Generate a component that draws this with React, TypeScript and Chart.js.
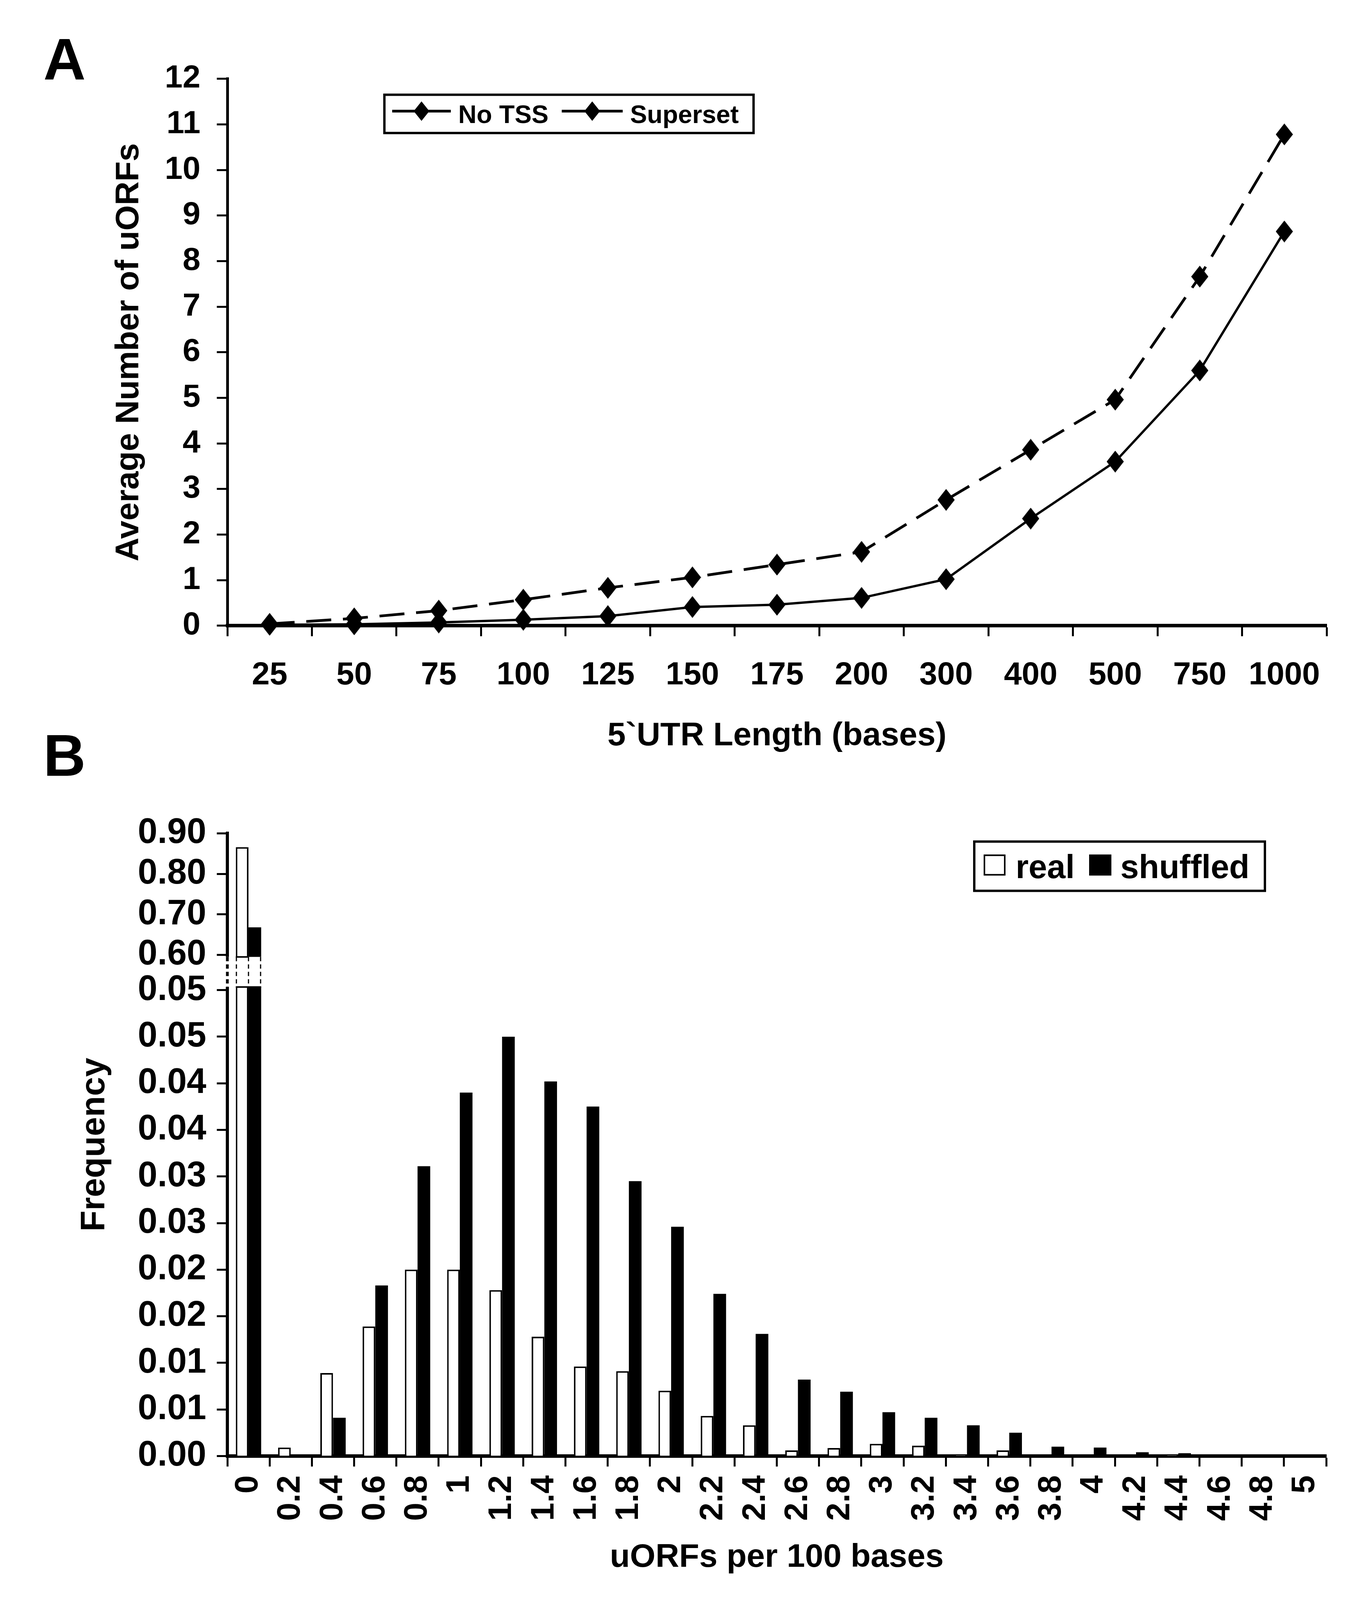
import React, { useEffect, useRef } from "react";
import { Chart, registerables } from "chart.js";

Chart.register(...registerables);

const FONT = "'Liberation Sans', Arial, Helvetica, sans-serif";

// ---------- Panel A data ----------
const utrLengths = ["25", "50", "75", "100", "125", "150", "175", "200", "300", "400", "500", "750", "1000"];
const noTssUorfs = [0.02, 0.03, 0.07, 0.13, 0.21, 0.41, 0.46, 0.61, 1.02, 2.35, 3.6, 5.6, 8.65];
const supersetUorfs = [0.04, 0.16, 0.33, 0.57, 0.83, 1.06, 1.34, 1.62, 2.76, 3.86, 4.96, 7.66, 10.78];
const seriesNamesA = ["No TSS", "Superset"];

// ---------- Panel B data ----------
const densityBins = ["0", "0.2", "0.4", "0.6", "0.8", "1", "1.2", "1.4", "1.6", "1.8", "2", "2.2", "2.4", "2.6", "2.8", "3", "3.2", "3.4", "3.6", "3.8", "4", "4.2", "4.4", "4.6", "4.8", "5"];
const realFreq = [0.866, 0.0009, 0.0089, 0.0139, 0.02, 0.02, 0.0178, 0.0128, 0.0096, 0.0091, 0.007, 0.0043, 0.0033, 0.0006, 0.00085, 0.0013, 0.0011, 0.0001, 0.0006, 0, 0, 0, 0.0001, 0, 0, 0];
const shuffledFreq = [0.668, 0, 0.0041, 0.0183, 0.0311, 0.039, 0.045, 0.0402, 0.0375, 0.0295, 0.0246, 0.0174, 0.0131, 0.0082, 0.0069, 0.0047, 0.0041, 0.0033, 0.0025, 0.001, 0.0009, 0.0004, 0.0003, 0.00015, 0.0001, 0.00006];
const seriesNamesB = ["real", "shuffled"];
const freqTickValues = [0, 0.005, 0.01, 0.015, 0.02, 0.025, 0.03, 0.035, 0.04, 0.045, 0.05, 0.6, 0.7, 0.8, 0.9];
const freqTickLabels = ["0.00", "0.01", "0.01", "0.02", "0.02", "0.03", "0.03", "0.04", "0.04", "0.05", "0.05", "0.60", "0.70", "0.80", "0.90"];

// broken axis: lower part 0..0.05, upper part 0.6..0.9
const BREAK_LOW = 0.05;
const BREAK_HIGH = 0.6;
const LOW_STEP = 0.005;
const HIGH_STEP = 0.1;
const GAP_UNITS = 0.755;
const HIGH_UNIT = 0.87;
function toAxis(v: number): number {
  if (v <= BREAK_LOW) return v / LOW_STEP;
  return BREAK_LOW / LOW_STEP + GAP_UNITS + ((v - BREAK_HIGH) / HIGH_STEP) * HIGH_UNIT;
}

const PAGE_W = 3484;
const PAGE_H = 4222;

function diamond(ctx: CanvasRenderingContext2D, x: number, y: number, w: number, h: number) {
  ctx.beginPath();
  ctx.moveTo(x, y - h / 2);
  ctx.lineTo(x + w / 2, y);
  ctx.lineTo(x, y + h / 2);
  ctx.lineTo(x - w / 2, y);
  ctx.closePath();
  ctx.fill();
}

function makeDiamondMarker(w: number, h: number): HTMLCanvasElement {
  const c = document.createElement("canvas");
  c.width = w;
  c.height = h;
  const ctx = c.getContext("2d") as CanvasRenderingContext2D;
  ctx.fillStyle = "#000";
  diamond(ctx, w / 2, h / 2, w, h);
  return c;
}

function makeLegendAPlugin(k: number) {
  return {
    id: "legendA",
    afterDraw(chart: any) {
      const ctx: CanvasRenderingContext2D = chart.ctx;
      const yc = 300.5 * k;
      ctx.save();
      ctx.strokeStyle = "#000";
      ctx.fillStyle = "#000";
      ctx.lineWidth = 6;
      ctx.strokeRect(984, yc - 50.5 * k, 945, 101 * k);
      const items = [
        { x0: 1004, x1: 1154, tx: 1173 },
        { x0: 1438, x1: 1594, tx: 1613 },
      ];
      items.forEach((it, i) => {
        ctx.lineWidth = 7;
        ctx.beginPath();
        ctx.moveTo(it.x0, yc - 7);
        ctx.lineTo(it.x1, yc - 7);
        ctx.stroke();
        diamond(ctx, (it.x0 + it.x1) / 2, yc - 7, 40, 50);
        ctx.font = `bold 65px ${FONT}`;
        ctx.textBaseline = "alphabetic";
        ctx.textAlign = "left";
        ctx.fillText(seriesNamesA[i], it.tx, yc + 23);
      });
      ctx.restore();
    },
  };
}

function makeLegendBPlugin(k: number) {
  return {
    id: "legendB",
    afterDraw(chart: any) {
      const ctx: CanvasRenderingContext2D = chart.ctx;
      const yc = 286 * k;
      ctx.save();
      ctx.strokeStyle = "#000";
      ctx.lineWidth = 6;
      ctx.strokeRect(2494, yc - 65 * k, 744, 130 * k);
      ctx.lineWidth = 4;
      ctx.fillStyle = "#fff";
      ctx.fillRect(2520, yc - 28, 52, 50);
      ctx.strokeRect(2520, yc - 28, 52, 50);
      ctx.fillStyle = "#000";
      ctx.fillRect(2788, yc - 30, 57, 54);
      ctx.font = `bold 85px ${FONT}`;
      ctx.textBaseline = "alphabetic";
      ctx.textAlign = "left";
      ctx.fillText(seriesNamesB[0], 2600, yc + 31);
      ctx.fillText(seriesNamesB[1], 2868, yc + 31);
      ctx.restore();
    },
  };
}

const breakPlugin = {
  id: "axisBreak",
  afterDatasetsDraw(chart: any) {
    const ctx: CanvasRenderingContext2D = chart.ctx;
    const y = chart.scales.y;
    const yTop = y.getPixelForValue(toAxis(BREAK_HIGH));
    const yBot = y.getPixelForValue(toAxis(BREAK_LOW));
    const real = chart.getDatasetMeta(0).data[0];
    const shuf = chart.getDatasetMeta(1).data[0];
    const left = chart.chartArea.left;
    const rL = real.x - real.width / 2;
    const rR = real.x + real.width / 2;
    const sR = shuf.x + shuf.width / 2;
    const g0 = yTop + 5;
    const g1 = yBot - 8;
    ctx.save();
    ctx.fillStyle = "#fff";
    ctx.fillRect(left - 6, g0, sR + 3 - (left - 6), g1 - g0);
    ctx.strokeStyle = "#000";
    ctx.setLineDash([11, 8]);
    ctx.lineWidth = 7;
    ctx.beginPath();
    ctx.moveTo(left, g0);
    ctx.lineTo(left, g1);
    ctx.stroke();
    ctx.lineWidth = 3;
    [rL + 1.5, rR, sR - 1.5].forEach((x) => {
      ctx.beginPath();
      ctx.moveTo(x, g0);
      ctx.lineTo(x, g1);
      ctx.stroke();
    });
    ctx.setLineDash([]);
    ctx.lineWidth = 4;
    ctx.beginPath();
    ctx.moveTo(rL, g0);
    ctx.lineTo(rR, g0);
    ctx.moveTo(rL, g1);
    ctx.lineTo(sR, g1);
    ctx.stroke();
    ctx.restore();
  },
};

const axisCommon = {
  grid: {
    display: true,
    drawOnChartArea: false,
    drawTicks: true,
    tickLength: 27,
    tickWidth: 5,
    tickColor: "#000",
  },
  border: { display: true, color: "#000", width: 8 },
};

function getScaleY(): number {
  const h = typeof window !== "undefined" ? window.innerHeight : PAGE_H;
  if (!h || h < 1000) return 1;
  return Math.min(1, h / PAGE_H);
}

export default function App() {
  const refA = useRef<HTMLCanvasElement>(null);
  const refB = useRef<HTMLCanvasElement>(null);
  const k = getScaleY();

  const hA = Math.round(2010 * k);
  const topB = Math.round(2000 * k);
  const hB = Math.round(PAGE_H * k) - topB;

  useEffect(() => {
    Chart.defaults.color = "#000";
    const marker = makeDiamondMarker(44, 56);
    const chartA = new Chart(refA.current as HTMLCanvasElement, {
      type: "line",
      data: {
        labels: utrLengths,
        datasets: [
          {
            label: seriesNamesA[0],
            data: noTssUorfs,
            borderColor: "#000",
            backgroundColor: "#000",
            borderWidth: 6,
            pointStyle: marker,
            pointRadius: 22,
            tension: 0,
            clip: false,
          } as any,
          {
            label: seriesNamesA[1],
            data: supersetUorfs,
            borderColor: "#000",
            backgroundColor: "#000",
            borderWidth: 7,
            borderDash: [64, 30],
            pointStyle: marker,
            pointRadius: 22,
            tension: 0,
            clip: false,
          } as any,
        ],
      },
      options: {
        animation: false,
        responsive: false,
        devicePixelRatio: 1,
        layout: { padding: { top: 208 * k, right: 88, left: 0, bottom: 0 } },
        plugins: { legend: { display: false }, tooltip: { enabled: false } },
        scales: {
          x: {
            type: "category",
            offset: true,
            ...axisCommon,
            grid: { ...axisCommon.grid, offset: true },
            border: { display: true, color: "#000", width: 9 },
            ticks: {
              autoSkip: false,
              maxRotation: 0,
              minRotation: 0,
              padding: Math.max(10, 131 * k - 76),
              color: "#000",
              font: { family: FONT, size: 82, weight: "bold" },
            },
            title: {
              display: true,
              text: "5`UTR Length (bases)",
              color: "#000",
              font: { family: FONT, size: 84, weight: "bold" },
              padding: { top: 0, bottom: Math.max(0, (hA - 1943 * k) - 50.4) },
            },
            afterFit: (s: any) => {
              s.height = hA - 1651 * k;
            },
          },
          y: {
            type: "linear",
            min: 0,
            max: 12,
            ...axisCommon,
            border: { display: true, color: "#000", width: 7 },
            ticks: {
              stepSize: 1,
              autoSkip: false,
              padding: 42,
              color: "#000",
              font: { family: FONT, size: 82, weight: "bold" },
            },
            title: {
              display: true,
              text: "Average Number of uORFs",
              color: "#000",
              font: { family: FONT, size: 84, weight: "bold" },
              padding: { top: 280, bottom: 0 },
            },
            afterFit: (s: any) => {
              s.width = 582;
            },
          },
        },
      } as any,
      plugins: [makeLegendAPlugin(k)],
    });

    const chartB = new Chart(refB.current as HTMLCanvasElement, {
      type: "bar",
      data: {
        labels: densityBins,
        datasets: [
          {
            label: seriesNamesB[0],
            data: realFreq.map(toAxis),
            backgroundColor: "#fff",
            borderColor: "#000",
            borderWidth: 4,
            categoryPercentage: 0.6,
            barPercentage: 1.0,
          },
          {
            label: seriesNamesB[1],
            data: shuffledFreq.map(toAxis),
            backgroundColor: "#000",
            borderColor: "#000",
            borderWidth: 0,
            categoryPercentage: 0.6,
            barPercentage: 1.0,
          },
        ],
      },
      options: {
        animation: false,
        responsive: false,
        devicePixelRatio: 1,
        layout: { padding: { top: 2199 * k - topB, right: 89, left: 0, bottom: 0 } },
        plugins: { legend: { display: false }, tooltip: { enabled: false } },
        scales: {
          x: {
            type: "category",
            ...axisCommon,
            grid: { ...axisCommon.grid, offset: true },
            border: { display: true, color: "#000", width: 9 },
            ticks: {
              autoSkip: false,
              maxRotation: 90,
              minRotation: 90,
              padding: Math.max(8, 51 * k - 27),
              color: "#000",
              font: { family: FONT, size: 84, weight: "bold" },
            },
            title: {
              display: true,
              text: "uORFs per 100 bases",
              color: "#000",
              font: { family: FONT, size: 84, weight: "bold" },
              padding: { top: 0, bottom: Math.max(0, (PAGE_H * k - 4111 * k) - 50.4) },
            },
            afterFit: (s: any) => {
              s.height = topB + hB - 3842 * k;
            },
          },
          y: {
            type: "linear",
            min: 0,
            max: toAxis(0.9),
            ...axisCommon,
            border: { display: true, color: "#000", width: 8 },
            afterBuildTicks: (s: any) => {
              s.ticks = freqTickValues.map((v) => ({ value: toAxis(v) }));
            },
            ticks: {
              autoSkip: false,
              padding: 27,
              color: "#000",
              font: { family: FONT, size: 90, weight: "bold" },
              callback: (_v: any, i: number) => freqTickLabels[i],
            },
            title: {
              display: true,
              text: "Frequency",
              color: "#000",
              font: { family: FONT, size: 88, weight: "bold" },
              padding: { top: 190, bottom: 0 },
            },
            afterFit: (s: any) => {
              s.width = 582;
            },
          },
        },
      } as any,
      plugins: [breakPlugin, makeLegendBPlugin(k)],
    });

    return () => {
      chartA.destroy();
      chartB.destroy();
    };
  }, []);

  const panelLabel: React.CSSProperties = {
    position: "absolute",
    left: 111,
    font: `bold 150px ${FONT}`,
    lineHeight: 1,
    color: "#000",
  };

  return (
    <div
      style={{
        position: "absolute",
        left: 0,
        top: 0,
        width: PAGE_W,
        height: Math.round(PAGE_H * k),
        background: "#fff",
        overflow: "hidden",
      }}
    >
      <canvas
        ref={refA}
        width={PAGE_W}
        height={hA}
        style={{ position: "absolute", left: 0, top: 0, width: PAGE_W, height: hA }}
      />
      <canvas
        ref={refB}
        width={PAGE_W}
        height={hB}
        style={{ position: "absolute", left: 0, top: topB, width: PAGE_W, height: hB }}
      />
      <div style={{ ...panelLabel, top: Math.round(99 * k) - 20 }}>A</div>
      <div style={{ ...panelLabel, top: Math.round(1937 * k) - 20 }}>B</div>
    </div>
  );
}
